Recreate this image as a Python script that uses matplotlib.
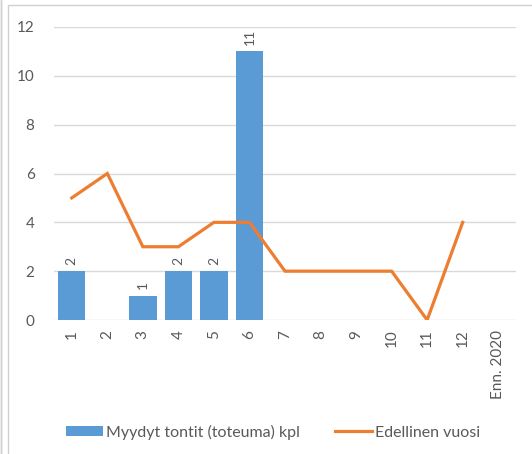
import matplotlib
matplotlib.use('Agg')
import matplotlib.pyplot as plt
import numpy as np
from matplotlib.patches import Rectangle

plt.rcParams['font.family'] = ['Lato', 'DejaVu Sans']

categories = ['1', '2', '3', '4', '5', '6', '7', '8', '9', '10', '11', '12', 'Enn. 2020']
sold = [2, np.nan, 1, 2, 2, 11, np.nan, np.nan, np.nan, np.nan, np.nan, np.nan, np.nan]
previous = [5, 6, 3, 3, 4, 4, 2, 2, 2, 2, 0, 4, np.nan]

bar_color = '#5B9BD5'
line_color = '#ED7D31'
text_color = '#595959'

fig = plt.figure(figsize=(5.32, 4.54), dpi=100)
# chart frame
fig.patches.append(Rectangle((8 / 532, -0.01), 1.0, 1 - 5 / 454 + 0.01, transform=fig.transFigure,
                             fill=False, edgecolor='#D0D0D0', lw=1))
fig.patches.append(Rectangle((0.002, -0.01), 0.0, 1.02, transform=fig.transFigure,
                             fill=False, edgecolor='#D0D0D0', lw=1))

ax = fig.add_axes([54 / 532, 1 - 320 / 454, 462 / 532, 293 / 454])
x = np.arange(len(categories))
bars = ax.bar(x, sold, width=0.77, color=bar_color, label='Myydyt tontit (toteuma) kpl', zorder=2)
line, = ax.plot(x, previous, color=line_color, lw=2.3, label='Edellinen vuosi', zorder=3,
                solid_joinstyle='miter')

for xi, v in zip(x, sold):
    if not np.isnan(v):
        ax.text(xi, v + 0.25, str(int(v)), rotation=90, ha='center', va='bottom',
                fontsize=10, color=text_color)

ax.set_xlim(-0.5, len(categories) - 0.5)
ax.set_ylim(0, 12)
ax.set_yticks(range(0, 13, 2))
ax.set_xticks(x)
ax.set_xticklabels(categories, rotation=90, va='top')
ax.tick_params(length=0, labelsize=11, colors=text_color)
ax.tick_params(axis='y', pad=14)
ax.tick_params(axis='x', pad=7)
ax.grid(axis='y', color='#D9D9D9', lw=1, zorder=0)
for s in ax.spines.values():
    s.set_visible(False)

fig.legend([bars, line], ['Myydyt tontit (toteuma) kpl', 'Edellinen vuosi'],
           loc='center', bbox_to_anchor=(0.513, 1 - 432 / 454), ncol=2, frameon=False,
           fontsize=11.5, labelcolor=text_color, handlelength=2.3, handleheight=0.6,
           columnspacing=2.2, handletextpad=0.2)

fig.savefig('out.png', dpi=100)
